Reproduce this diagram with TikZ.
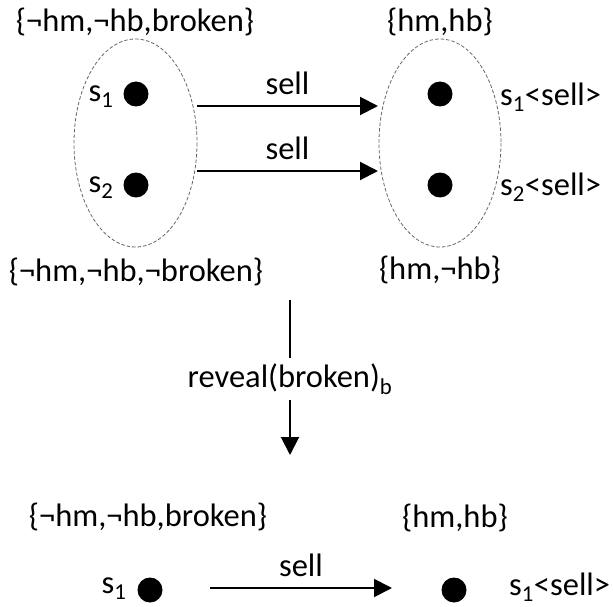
\documentclass[tikz,border=0pt]{standalone}
\usepackage{fontspec}
\setmainfont{Carlito}
\usetikzlibrary{arrows.meta, positioning}

\begin{document}
\begin{tikzpicture}[x=1pt, y=-1pt,
    txt/.style={font=\fontsize{32.5}{38}\selectfont, inner sep=0pt},
    dot/.style={circle, fill=black, inner sep=0pt, minimum size=25pt},
    set/.style={gray!80!black, line width=0.8pt, dash pattern=on 3.5pt off 2pt},
    arr/.style={line width=2pt, -{Triangle[length=18pt, width=18pt]}}]
\useasboundingbox (0,0) rectangle (613,607);

% first row: before revealing
\draw[set] (135.5,143) ellipse (61.5 and 104);
\draw[set] (440,143) ellipse (61 and 104);
\node[txt] (topL) at (135,22) {\{¬hm,¬hb,broken\}};
\node[txt] (topR) at (440,22) {\{hm,hb\}};
\node[txt] (botL) at (136,272) {\{¬hm,¬hb,¬broken\}};
\node[txt] (botR) at (440,270) {\{hm,¬hb\}};
\node[dot] (s1) at (136,94) {};
\node[dot] (s2) at (136,185) {};
\node[dot] (t1) at (440,94) {};
\node[dot] (t2) at (440,185) {};
\node[txt] (s1lab) at (101,97) {s\textsubscript{1}};
\node[txt] (s2lab) at (101,188) {s\textsubscript{2}};
\node[txt, anchor=west] (t1lab) at (500,97) {s\textsubscript{1}<sell>};
\node[txt, anchor=west] (t2lab) at (500,187) {s\textsubscript{2}<sell>};
\coordinate (a1) at (197,106);
\coordinate (b1) at (378,106);
\coordinate (a2) at (197,171);
\coordinate (b2) at (378,171);
\draw[arr] (a1) -- node[txt, above=10pt] (sell1) {sell} (b1);
\draw[arr] (a2) -- node[txt, above=10pt] (sell2) {sell} (b2);

% revealing step
\coordinate (revtop) at (290,300);
\coordinate (revbot) at (290,455);
\node[txt, inner sep=5pt] (reveal) at (290,379) {reveal(broken)\textsubscript{b}};
\draw[line width=2pt] (revtop) -- (reveal);
\draw[arr] (reveal) -- (revbot);

% second row: after revealing
\node[txt] (lowL) at (148,517) {\{¬hm,¬hb,broken\}};
\node[txt] (lowR) at (455,518) {\{hm,hb\}};
\node[dot] (u1) at (150,590) {};
\node[dot] (v1) at (454,590) {};
\node[txt] (u1lab) at (114,589) {s\textsubscript{1}};
\node[txt, anchor=west] (v1lab) at (509,587) {s\textsubscript{1}<sell>};
\coordinate (a3) at (210,588);
\coordinate (b3) at (392,588);
\draw[arr] (a3) -- node[txt, above=10pt] (sell3) {sell} (b3);
\end{tikzpicture}
\end{document}
